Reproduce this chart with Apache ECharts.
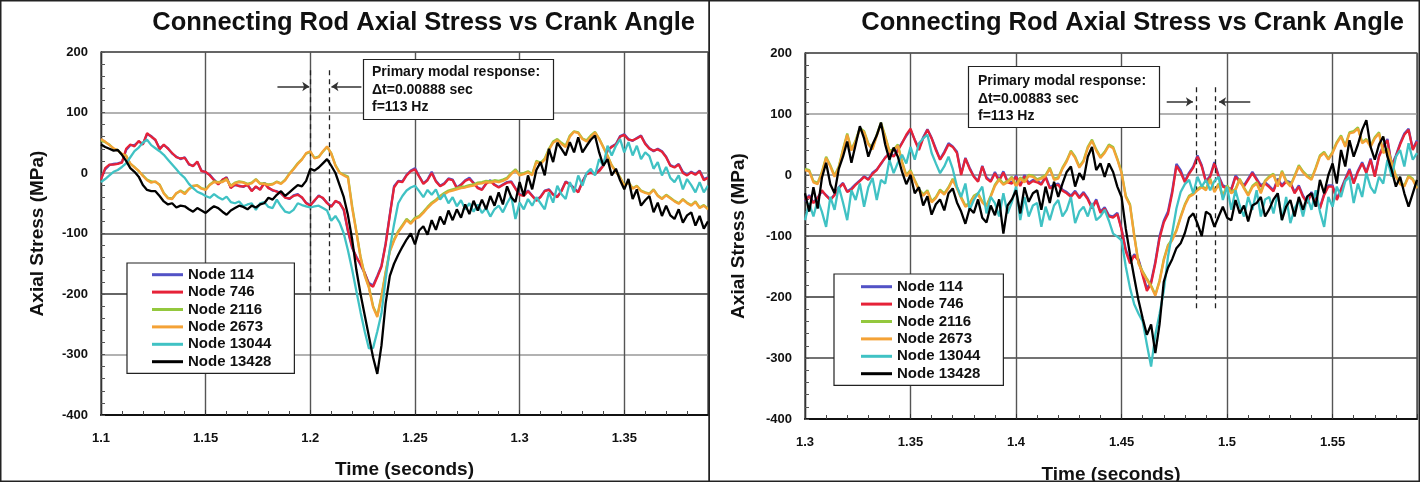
<!DOCTYPE html>
<html><head><meta charset="utf-8">
<script src="https://cdn.jsdelivr.net/npm/echarts@6/dist/echarts.min.js"></script>
<style>html,body{margin:0;padding:0;background:#fff}#c{width:1420px;height:482px}</style>
</head><body><div id="c"></div>
<script>
const FONT = "'Liberation Sans', Arial, Helvetica, sans-serif";
const nodeNames = ['Node 114','Node 746','Node 2116','Node 2673','Node 13044','Node 13428'];
const nodeColors = ['#5252c6','#e62238','#94c83e','#f4a236','#40c2c4','#000000'];
const titleText = 'Connecting Rod Axial Stress vs Crank Angle';
const xName = 'Time (seconds)';
const yName = 'Axial Stress (MPa)';
const noteLeft = 'Primary modal response:\n\u0394t=0.00888 sec\nf=113 Hz';
const noteRight = 'Primary modal response:\n\u0394t=0.00883 sec\nf=113 Hz';

// sample grid (seconds)
const sampleStep = 0.002;
const leftStart = 1.100;
const rightStart = 1.300;

// ---- left panel values (MPa), one per 0.002 s from 1.100 ----
const left114 = [-9,6,13,15,16,18,38,46,46,52,
48,64,61,54,41,46,41,32,27,23,
26,14,12,18,4,1,-3,-11,-18,-12,
-7,-24,-20,-21,-23,-19,-29,-23,-27,-16,
-24,-29,-30,-34,-40,-43,-37,-35,-41,-49,
-53,-46,-37,-42,-49,-55,-47,-49,-62,-97,
-124,-138,-152,-166,-182,-186,-170,-153,-116,-68,
-22,-13,-14,-3,4,8,-5,-17,-11,2,
-13,-21,-17,-9,-11,-24,-19,-12,-8,-16,
-24,-27,-17,-12,-19,-23,-19,-15,-14,-25,
-35,-37,-29,-37,-45,-39,-29,-27,-35,-39,
-29,-14,-18,-25,-31,-14,-1,1,-1,5,
13,37,44,48,61,64,56,53,58,62,
49,41,36,40,36,27,13,10,15,2,
-3,2,-2,4,-10,-7];
const left746 = [-11,8,14,14,15,17,40,47,44,53,
47,66,60,55,39,47,40,33,26,24,
25,15,11,19,3,2,-4,-12,-19,-11,
-8,-25,-19,-22,-22,-20,-30,-22,-28,-17,
-25,-28,-31,-33,-41,-42,-38,-36,-40,-50,
-54,-45,-38,-41,-50,-56,-46,-50,-60,-95,
-122,-140,-150,-165,-184,-188,-172,-155,-118,-70,
-24,-14,-15,-4,3,6,-6,-18,-12,0,
-14,-22,-18,-10,-12,-25,-20,-13,-10,-17,
-25,-28,-18,-13,-20,-24,-20,-16,-15,-26,
-36,-38,-30,-38,-46,-40,-30,-28,-36,-40,
-30,-15,-19,-26,-32,-15,-2,0,-2,3,
12,38,43,47,60,63,55,54,57,61,
48,40,37,39,35,26,12,9,14,0,
-4,1,-3,3,-12,-8];
const left2116 = [54,51,47,40,38,31,29,15,10,3,
-4,-11,-14,-15,-19,-33,-41,-42,-34,-29,
-33,-26,-22,-20,-25,-27,-19,-14,-15,-14,
-10,-21,-16,-14,-15,-18,-16,-10,-17,-17,
-19,-18,-14,-17,-11,-1,7,16,23,32,
35,25,27,35,43,33,13,1,-3,-6,
-55,-96,-138,-168,-188,-220,-236,-203,-163,-128,
-110,-96,-86,-76,-82,-74,-71,-64,-56,-49,
-44,-38,-33,-29,-27,-25,-23,-22,-20,-19,
-16,-15,-13,-14,-12,-13,-11,-8,0,6,
-2,0,3,-2,20,17,24,40,52,56,
50,45,62,69,67,57,54,62,68,57,
43,29,13,3,-7,-20,-15,-25,-21,-29,
-32,-34,-27,-37,-42,-36,-41,-46,-50,-43,
-49,-53,-47,-57,-53,-59];
const left2673 = [56,52,46,41,37,32,28,16,9,4,
-5,-12,-16,-14,-20,-34,-42,-43,-33,-30,
-35,-27,-21,-21,-26,-28,-20,-15,-16,-15,
-11,-22,-17,-15,-16,-19,-17,-11,-18,-18,
-20,-19,-15,-18,-12,-2,6,15,22,33,
36,24,26,36,44,32,12,0,-4,-8,
-58,-98,-140,-170,-190,-222,-238,-205,-165,-130,
-112,-98,-88,-78,-84,-76,-73,-66,-58,-51,
-46,-40,-35,-31,-29,-27,-25,-24,-22,-21,
-18,-17,-15,-16,-14,-15,-13,-10,-2,4,
-4,-2,1,-4,18,15,22,38,50,54,
48,43,60,68,66,56,52,60,67,56,
42,28,12,2,-8,-21,-16,-26,-22,-30,
-33,-35,-28,-38,-43,-37,-42,-47,-51,-44,
-50,-54,-48,-58,-54,-60];
const left13044 = [-15,-10,-4,2,5,10,16,26,36,42,
50,55,46,41,36,30,22,14,6,-2,
-8,-18,-25,-31,-34,-38,-41,-35,-40,-44,
-39,-48,-50,-47,-55,-52,-50,-61,-50,-48,
-56,-58,-44,-55,-64,-66,-61,-50,-53,-55,
-57,-55,-54,-58,-62,-79,-71,-82,-100,-128,
-160,-195,-230,-262,-290,-289,-262,-232,-175,-125,
-85,-50,-38,-29,-24,-21,-30,-40,-28,-36,
-27,-44,-35,-50,-40,-55,-45,-60,-50,-64,
-52,-66,-58,-72,-60,-54,-65,-50,-38,-76,
-49,-60,-43,-54,-40,-50,-60,-32,-49,-21,
-35,-43,-15,-32,-4,-21,0,7,-4,23,
12,45,29,45,56,34,51,29,45,23,
34,28,7,18,-4,10,-8,-15,-4,-27,
-10,-20,-32,-15,-32,-21];
const left13428 = [47,43,40,37,38,30,20,8,2,-6,
-20,-28,-30,-30,-38,-47,-52,-50,-57,-54,
-55,-60,-64,-58,-62,-66,-60,-55,-58,-64,
-69,-62,-58,-54,-56,-60,-54,-57,-52,-50,
-41,-44,-36,-30,-38,-32,-26,-20,-22,-13,
7,4,9,16,23,12,0,-20,-40,-70,
-110,-160,-200,-235,-270,-305,-332,-285,-215,-170,
-150,-135,-122,-110,-100,-118,-95,-88,-102,-78,
-94,-72,-85,-62,-78,-60,-74,-52,-68,-46,
-62,-44,-60,-38,-54,-32,-52,-22,-40,-48,
-15,-38,-4,-27,5,18,-4,40,18,50,
40,29,51,34,59,34,45,55,62,34,
12,23,-4,7,-12,-27,-10,-43,-27,-54,
-45,-38,-65,-49,-71,-54,-70,-76,-60,-82,
-70,-65,-87,-71,-92,-80];

// ---- right panel values (MPa), one per 0.002 s from 1.300 ----
const right114 = [-43,-33,-45,-37,-27,-33,-40,-32,-20,-13,
-27,-22,-15,-9,-2,-7,4,9,18,29,
35,31,42,53,64,74,58,43,62,75,
61,43,26,38,52,47,38,2,28,12,
-2,-10,15,-4,-10,5,-8,6,-10,-12,
-1,-16,0,-13,-8,-10,-14,-2,-20,-16,
-14,-24,-28,-34,-26,-36,-28,-38,-53,-40,
-60,-53,-66,-68,-62,-88,-122,-142,-130,-138,
-162,-186,-175,-142,-100,-75,-60,-26,18,8,
-10,4,14,32,16,-10,-1,21,-1,-17,
-20,-23,-1,-9,-17,-6,5,-6,-17,-12,
-18,-25,-6,-17,-9,-12,-28,-17,-34,-44,
-28,-40,-53,-31,-17,-17,-39,-23,-6,10,
-12,7,21,5,27,-1,32,48,59,16,
32,52,68,76,43,57];
const right746 = [-41,-35,-46,-38,-25,-34,-41,-33,-22,-14,
-28,-24,-16,-10,-3,-8,2,8,19,28,
36,30,40,52,66,76,57,41,60,74,
60,41,25,36,50,46,36,0,27,10,
-3,-11,14,-6,-11,3,-10,4,-12,-14,
-3,-18,-2,-15,-10,-12,-16,-4,-22,-18,
-16,-26,-30,-36,-28,-38,-30,-40,-55,-42,
-62,-55,-68,-70,-64,-90,-125,-145,-132,-140,
-165,-190,-178,-145,-104,-78,-64,-30,15,4,
-12,2,12,30,14,-12,-3,19,-3,-19,
-22,-25,-3,-11,-19,-8,3,-8,-19,-14,
-20,-27,-8,-19,-11,-14,-30,-19,-36,-46,
-30,-42,-55,-33,-19,-19,-41,-25,-8,8,
-14,5,19,3,25,-3,30,46,57,14,
30,50,66,74,41,55];
const right2116 = [10,8,-10,-13,5,30,16,-1,14,42,
68,42,57,77,72,52,44,66,86,64,
40,42,50,22,0,8,-8,-23,-32,-25,
-43,-36,-24,-30,-20,-6,-20,-36,-50,-46,
-34,-30,-43,-50,-34,-16,-6,-14,-10,-3,
-17,-4,-10,0,-1,-7,-4,0,12,-6,
-4,12,24,40,30,14,24,46,58,42,
30,38,50,46,27,5,-34,-48,-98,-143,
-158,-170,-181,-196,-173,-138,-115,-105,-90,-68,
-48,-34,-30,-23,-18,-23,-6,-26,-14,-34,
-17,-28,-23,-6,-20,-32,-18,-12,-28,-9,
-2,2,-17,7,-9,-17,-1,16,6,-1,
-6,12,32,38,27,38,54,65,48,70,
72,78,54,59,48,62,70,38,43,21,
-1,-13,-17,-1,-6,-20];
const right2673 = [8,6,-12,-15,3,28,14,-3,12,40,
66,40,55,75,70,50,42,64,84,62,
38,40,48,20,-2,6,-10,-25,-34,-27,
-45,-38,-26,-32,-22,-8,-22,-38,-52,-48,
-36,-32,-45,-52,-36,-18,-8,-16,-12,-5,
-19,-6,-12,-2,-3,-9,-6,-2,10,-8,
-6,10,22,38,28,12,22,44,56,40,
28,36,48,44,25,3,-36,-50,-100,-145,
-160,-172,-183,-198,-175,-140,-117,-107,-92,-70,
-50,-36,-32,-25,-20,-25,-8,-28,-16,-36,
-19,-30,-25,-8,-22,-34,-20,-14,-30,-11,
-4,0,-19,5,-11,-19,-3,14,4,-3,
-8,10,30,36,25,36,52,63,46,68,
70,76,52,57,46,60,68,36,41,19,
-3,-15,-19,-3,-8,-22];
const right13044 = [-74,-46,-68,-41,-60,-85,-36,-57,-19,-45,
-74,-25,-41,-14,-52,-20,-5,-41,-8,-14,
25,3,20,33,19,46,25,52,60,66,
36,19,3,14,30,10,-19,-36,-14,-57,
-41,-30,-19,-63,-36,-46,-68,-30,-63,-45,
-19,-74,-36,-68,-50,-46,-85,-52,-74,-50,
-41,-68,-57,-36,-79,-60,-52,-68,-46,-74,
-68,-57,-75,-96,-101,-107,-150,-185,-212,-227,
-240,-278,-314,-262,-228,-190,-134,-95,-55,-28,
-15,-8,-30,-3,-19,-8,-25,-10,-3,-41,
-19,-57,-25,-50,-68,-36,-57,-25,-68,-40,
-36,-63,-30,-74,-36,-79,-55,-41,-68,-36,
-57,-25,-60,-85,-36,-52,-19,-36,-10,-3,
-46,-14,-36,3,-20,-30,-3,-14,25,-3,
30,41,14,52,25,36];
const right13428 = [-30,-60,-20,-55,-5,20,-15,-30,10,30,
55,20,50,80,60,30,50,65,86,50,
25,45,30,5,-15,0,-30,-20,-50,-35,
-65,-48,-40,-58,-30,-22,-45,-60,-80,-55,
-62,-40,-70,-78,-50,-66,-40,-96,-50,-40,
-25,-63,-20,-44,-30,-25,-57,-19,-46,-11,
-36,-14,5,14,-19,3,-8,30,46,8,
19,-3,19,5,-19,-36,-88,-130,-168,-205,
-235,-262,-245,-292,-245,-175,-152,-138,-120,-112,
-95,-70,-63,-80,-100,-60,-65,-85,-68,-52,
-70,-74,-41,-63,-50,-76,-50,-46,-36,-68,
-56,-40,-30,-74,-52,-41,-68,-36,-57,-35,
-30,-52,-8,-30,0,19,-14,41,14,57,
30,50,74,90,46,25,50,63,30,8,
-19,-3,-30,-52,-30,-8];

// annotation markers in data units (time s, stress MPa)
const leftDashTimes = [1.2, 1.2089];
const leftDashRange = [170, -200];
const leftArrowLevel = 143;
const leftArrowFrom = [1.1843, 1.2244];
const leftArrowTo = [1.1995, 1.2101];
const rightDashTimes = [1.4855, 1.4945];
const rightDashRange = [144, -220];
const rightArrowLevel = 120;
const rightArrowFrom = [1.4714, 1.511];
const rightArrowTo = [1.4838, 1.4962];

const xTickLeft = {min: 1.1, max: 1.39, interval: 0.05};
const xTickRight = {min: 1.3, max: 1.59, interval: 0.05};
const yTick = {min: -400, max: 200, interval: 100};

function toPairs(start, vals) {
  return vals.map((v, i) => [Math.round((start + i * sampleStep) * 10000) / 10000, v]);
}

const chart = echarts.init(document.getElementById('c'), null, {renderer: 'canvas'});

function xAxisDef(gi, ticks, labelMargin, nameGap) {
  return {
    type: 'value', gridIndex: gi, min: ticks.min, max: ticks.max, interval: ticks.interval,
    name: xName, nameLocation: 'middle', nameGap: nameGap,
    nameTextStyle: {fontFamily: FONT, fontSize: 19, fontWeight: 'bold', color: '#111'},
    axisLine: {show: true, onZero: false, lineStyle: {color: '#111', width: 2}},
    axisTick: {show: true, inside: true, length: 5, lineStyle: {color: '#333'}},
    minorTick: {show: true, splitNumber: 5, length: 4, lineStyle: {color: '#444'}},
    axisLabel: {fontFamily: FONT, fontSize: 13, fontWeight: 'bold', color: '#111', margin: labelMargin, showMaxLabel: false, showMinLabel: true},
    splitLine: {show: true, lineStyle: {color: '#555', width: 1.4}},
    minorSplitLine: {show: false}
  };
}
function yAxisDef(gi, nameGap, gridColors) {
  return {
    type: 'value', gridIndex: gi, min: yTick.min, max: yTick.max, interval: yTick.interval,
    name: yName, nameLocation: 'middle', nameGap: nameGap,
    nameTextStyle: {fontFamily: FONT, fontSize: 19, fontWeight: 'bold', color: '#111'},
    axisLine: {show: true, onZero: false, lineStyle: {color: '#333', width: 1.3}},
    axisTick: {show: true, inside: true, length: 4, lineStyle: {color: '#555'}},
    minorTick: {show: true, splitNumber: 5, length: 4, lineStyle: {color: '#555'}},
    axisLabel: {fontFamily: FONT, fontSize: 13, fontWeight: 'bold', color: '#111', margin: 13},
    splitLine: {show: true, lineStyle: {color: gridColors, width: 1.7}}
  };
}

const series = [];
[[leftStart, [left114, left746, left2116, left2673, left13044, left13428]],
 [rightStart, [right114, right746, right2116, right2673, right13044, right13428]]]
.forEach(([start, sets], gi) => {
  sets.forEach((vals, k) => {
    series.push({
      name: nodeNames[k], type: 'line', xAxisIndex: gi, yAxisIndex: gi,
      data: toPairs(start, vals), showSymbol: false, symbol: 'none',
      lineStyle: {width: 2.3, color: nodeColors[k]}, itemStyle: {color: nodeColors[k]},
      z: 2 + k, animation: false
    });
  });
});

function annotation(gi, dashT, dashR, lvl, from, to) {
  series.push({
    type: 'line', xAxisIndex: gi, yAxisIndex: gi, data: [], z: 20, silent: true,
    markLine: {
      silent: true, animation: false, symbol: ['none', 'none'], label: {show: false},
      lineStyle: {color: '#222', width: 1.3, type: [5, 4]},
      data: dashT.map(t => [{coord: [t, dashR[0]]}, {coord: [t, dashR[1]]}])
    }
  });
  series.push({
    type: 'line', xAxisIndex: gi, yAxisIndex: gi, data: [], z: 20, silent: true,
    markLine: {
      silent: true, animation: false, symbol: ['none', 'arrow'], symbolSize: 7, label: {show: false},
      lineStyle: {color: '#333', width: 1.5, type: 'solid'},
      data: from.map((f, i) => [{coord: [f, lvl]}, {coord: [to[i], lvl]}])
    }
  });
}
annotation(0, leftDashTimes, leftDashRange, leftArrowLevel, leftArrowFrom, leftArrowTo);
annotation(1, rightDashTimes, rightDashRange, rightArrowLevel, rightArrowFrom, rightArrowTo);

const legendBase = {
  orient: 'vertical', icon: 'rect', itemWidth: 31, itemHeight: 3, itemGap: 0,
  selectedMode: false, data: nodeNames,
  textStyle: {fontFamily: FONT, fontSize: 15, fontWeight: 'bold', color: '#111', lineHeight: 17.4},
  borderColor: '#222', borderWidth: 1.2, backgroundColor: '#fff', borderRadius: 0
};
const noteStyle = {fontFamily: FONT, fontSize: 14, fontWeight: 'bold', color: '#111', lineHeight: 17.8};

const option = {
  animation: false,
  backgroundColor: '#fff',
  title: [
    {text: titleText, right: 720, top: 5, textStyle: {fontFamily: FONT, fontSize: 25.5, fontWeight: 'bold', color: '#111'}},
    {text: titleText, right: 11, top: 5, textStyle: {fontFamily: FONT, fontSize: 25.5, fontWeight: 'bold', color: '#111'}},
    {text: noteLeft, left: 363, top: 59, padding: [4, 14, 3, 9], borderColor: '#222', borderWidth: 1.2, backgroundColor: '#fff', textStyle: noteStyle, z: 30},
    {text: noteRight, left: 968, top: 66, padding: [6, 14, 2, 10], borderColor: '#222', borderWidth: 1.2, backgroundColor: '#fff', textStyle: noteStyle, z: 30}
  ],
  legend: [
    Object.assign({}, legendBase, {left: 127, top: 263, padding: [3, 23, 3, 25]}),
    Object.assign({}, legendBase, {left: 834, top: 274, padding: [4, 23, 3, 27]})
  ],
  grid: [
    {left: 101, top: 52, width: 607, height: 363, show: true, borderColor: '#333', borderWidth: 1.2, backgroundColor: 'transparent', containLabel: false, outerBoundsMode: 'none'},
    {left: 805, top: 53, width: 612, height: 366, show: true, borderColor: '#333', borderWidth: 1.2, backgroundColor: 'transparent', containLabel: false, outerBoundsMode: 'none'}
  ],
  xAxis: [xAxisDef(0, xTickLeft, 17, 45), xAxisDef(1, xTickRight, 17, 46)],
  yAxis: [
    yAxisDef(0, 54, ['#333', '#999', '#333', '#444', '#999', '#999', '#555']),
    yAxisDef(1, 57, ['#333', '#444', '#333', '#444', '#888', '#999', '#555'])
  ],
  graphic: [
    {type: 'rect', silent: true, z: 100, shape: {x: 0.75, y: 0.75, width: 708.5, height: 480.5}, style: {fill: null, stroke: '#222', lineWidth: 1.5}},
    {type: 'rect', silent: true, z: 100, shape: {x: 709.25, y: 0.75, width: 710, height: 480.5}, style: {fill: null, stroke: '#222', lineWidth: 1.5}}
  ],
  series: series
};
chart.setOption(option);
</script>
</body></html>
